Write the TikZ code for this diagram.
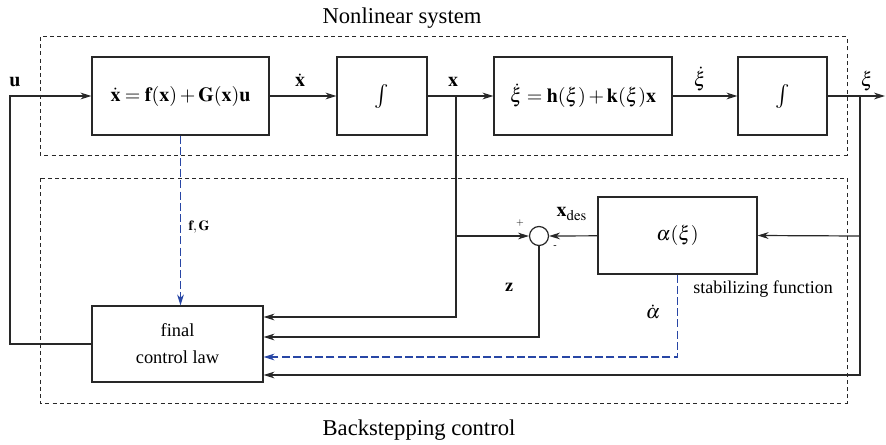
\documentclass[tikz,border=0pt]{standalone}
\usepackage{amsmath,amssymb}
\usepackage{mathptmx}
\usepackage{fontspec}
\setmainfont{Liberation Serif}
\usepackage{tikz}
\usetikzlibrary{calc,arrows.meta}
\usepackage{xcolor}
\definecolor{line}{RGB}{40,40,40}
\definecolor{info}{RGB}{40,70,165}
\tikzset{
  bsbox/.style={draw=line,line width=0.6pt,rectangle,inner sep=0pt,minimum height=39pt},
  bsframe/.style={line,line width=0.5pt,dash pattern=on 2pt off 1.6pt},
  bsarrow/.style={line,line width=0.6pt,-{Stealth[length=5.5pt,width=3.4pt]}},
  bsinfo/.style={info,line width=0.6pt,dash pattern=on 4pt off 1.6pt,-{Stealth[length=5.5pt,width=3.4pt]}},
  bssum/.style={draw=line,line width=0.6pt,circle,inner sep=0pt,minimum size=9.5pt},
}

\begin{document}
\begin{tikzpicture}[x=0.5pt,y=-0.5pt]
  \useasboundingbox (0,0) rectangle (886,444);
  % frames
  \draw[bsframe] (40,37) rectangle (847,155);
  \draw[bsframe] (40,178) rectangle (847,403);
  \node[font=\fontsize{11.3}{13}\selectfont] (nltitle) at (402,18) {Nonlinear system};
  \node[font=\fontsize{11.3}{13}\selectfont] (bstitle) at (419,430) {Backstepping control};
  % plant
  \node[bsbox,minimum width=88.5pt] (dyn) at (180.5,96) {$\dot{\mathbf{x}}=\mathbf{f}(\mathbf{x})+\mathbf{G}(\mathbf{x})\mathbf{u}$};
  \node[bsbox,minimum width=45pt,font=\large] (intx) at (382,96) {$\int$};
  \node[bsbox,minimum width=89pt] (dynxi) at (583,96) {$\dot{\xi}=\mathbf{h}(\xi)+\mathbf{k}(\xi)\mathbf{x}$};
  \node[bsbox,minimum width=44.5pt,font=\large] (intxi) at (782.5,96) {$\int$};
  % controller
  \node[bsbox,minimum width=79.5pt,minimum height=38.5pt] (alpha) at (677.5,235.5) {$\alpha(\xi)$};
  \node[bsbox,minimum width=85.5pt,minimum height=38pt,align=center,
    font=\fontsize{9.2}{13.5}\selectfont] (final) at (177.5,344) {final\\control law};
  \node[bssum] (sum) at (539,236) {};
  \coordinate (ucorner) at (10,96);
  \coordinate (xb) at (456,96);
  \coordinate (xs) at (456,236);
  \coordinate (xib) at (860,96);
  \coordinate (xia) at (860,236);
  \coordinate (out) at (885,96);
  \coordinate (xin) at ([yshift=13.5pt]final.east);
  \coordinate (zin) at ([yshift=3.5pt]final.east);
  \coordinate (adin) at ([yshift=-6.5pt]final.east);
  \coordinate (xiin) at ([yshift=-15.5pt]final.east);
  % signals
  \draw[bsarrow] (final.west) -| (ucorner) -- (dyn.west);
  \draw[bsarrow] (dyn) -- (intx);
  \draw[bsarrow] (intx) -- (dynxi);
  \draw[bsarrow] (dynxi) -- (intxi);
  \draw[bsarrow] (intxi) -- (out);
  \draw[bsarrow] (xb) |- (xin);
  \draw[bsarrow] (xs) -- (sum.west);
  \draw[bsarrow] (alpha) -- (sum.east);
  \draw[bsarrow] (sum.south) |- (zin);
  \draw[bsarrow] (xia) -- (alpha.east);
  \draw[bsarrow] (xib) |- (xiin);
  \draw[bsinfo] (dyn.south) -- (dyn.south |- final.north);
  \draw[bsinfo] (alpha.south) |- (adin);
  % labels
  \node (ulab) at (15,82) {$\mathbf{u}$};
  \node (xdlab) at (300,80) {$\dot{\mathbf{x}}$};
  \node (xlab) at (453,82) {$\mathbf{x}$};
  \node (xidlab) at (700,79) {$\dot{\xi}$};
  \node (xilab) at (867,81) {$\xi$};
  \node[font=\scriptsize] (fglab) at (199,227) {$\mathbf{f},\mathbf{G}$};
  \node (xdeslab) at (572,214) {$\mathbf{x}_{\mathrm{des}}$};
  \node[font=\tiny] (plab) at (520,223) {$+$};
  \node[font=\tiny] (mlab) at (555,247) {-};
  \node[font=\small] (zlab) at (509,287) {$\mathbf{z}$};
  \node (adlab) at (653,312) {$\dot{\alpha}$};
  \node[font=\fontsize{9}{11}\selectfont] (stablab) at (763,289) {stabilizing function};
\end{tikzpicture}
\end{document}
